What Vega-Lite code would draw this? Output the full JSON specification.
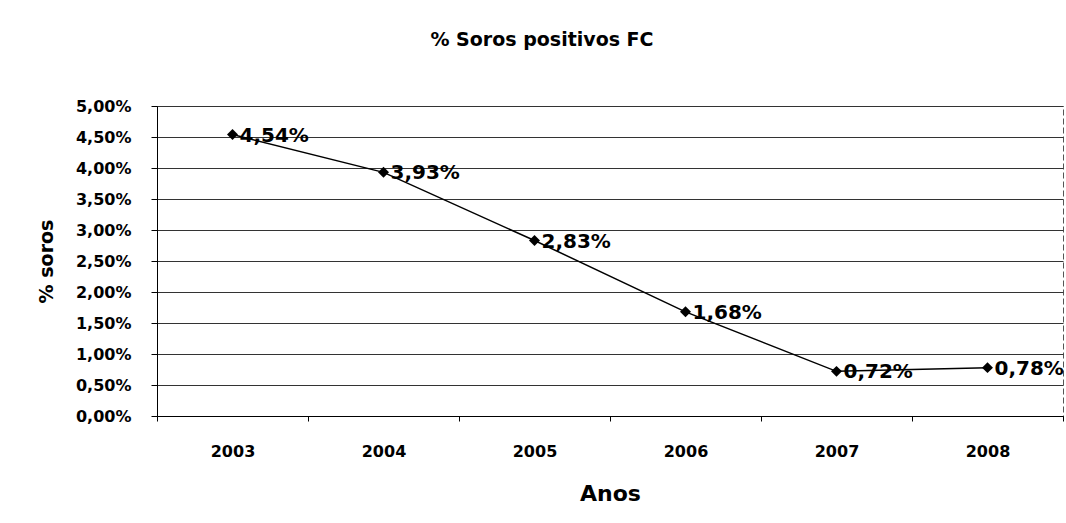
{
  "$schema": "https://vega.github.io/schema/vega-lite/v6.json",
  "autosize": {"type": "none"},
  "width": 906,
  "height": 310,
  "padding": {"left": 157, "top": 106, "right": 3, "bottom": 107},
  "background": "white",
  "title": {
    "text": "% Soros positivos FC",
    "anchor": "middle",
    "frame": "group",
    "dx": -68,
    "offset": 39,
    "baseline": "middle",
    "font": "DejaVu Sans",
    "fontSize": 19,
    "fontWeight": "bold",
    "color": "black"
  },
  "data": {
    "values": [
      {"ano": "2003", "valor": 0.0454, "rotulo": "4,54%"},
      {"ano": "2004", "valor": 0.0393, "rotulo": "3,93%"},
      {"ano": "2005", "valor": 0.0283, "rotulo": "2,83%"},
      {"ano": "2006", "valor": 0.0168, "rotulo": "1,68%"},
      {"ano": "2007", "valor": 0.0072, "rotulo": "0,72%"},
      {"ano": "2008", "valor": 0.0078, "rotulo": "0,78%"}
    ]
  },
  "encoding": {
    "x": {
      "field": "ano",
      "type": "ordinal",
      "scale": {"paddingInner": 0, "paddingOuter": 0},
      "axis": {
        "title": "Anos",
        "labelAngle": 0,
        "labelFont": "DejaVu Sans",
        "labelFontSize": 16,
        "labelFontWeight": "bold",
        "labelColor": "black",
        "labelPadding": 22,
        "tickBand": "extent",
        "tickSize": 5,
        "tickColor": "black",
        "domainColor": "black",
        "titleFont": "DejaVu Sans",
        "titleFontSize": 22,
        "titleFontWeight": "bold",
        "titleColor": "black",
        "titlePadding": 24,
        "grid": false
      }
    },
    "y": {
      "field": "valor",
      "type": "quantitative",
      "scale": {"domain": [0, 0.05]},
      "axis": {
        "title": "% soros",
        "values": [0, 0.005, 0.01, 0.015, 0.02, 0.025, 0.03, 0.035, 0.04, 0.045, 0.05],
        "format": ".2%",
        "labelExpr": "replace(datum.label, '.', ',')",
        "labelFont": "DejaVu Sans",
        "labelFontSize": 16,
        "labelFontWeight": "bold",
        "labelColor": "black",
        "labelPadding": 20,
        "tickSize": 6,
        "tickColor": "black",
        "domainColor": "black",
        "grid": true,
        "gridColor": "#333333",
        "gridWidth": 1,
        "titleFont": "DejaVu Sans",
        "titleFontSize": 19,
        "titleFontWeight": "bold",
        "titleColor": "black",
        "titlePadding": 19
      }
    }
  },
  "layer": [
    {"mark": {"type": "line", "color": "black", "strokeWidth": 1.5}},
    {"mark": {"type": "point", "shape": "diamond", "filled": true, "color": "black", "size": 120, "opacity": 1}},
    {
      "mark": {"type": "text", "align": "left", "baseline": "middle", "dx": 7, "dy": 1, "font": "DejaVu Sans", "fontSize": 20, "fontWeight": "bold", "color": "black"},
      "encoding": {"text": {"field": "rotulo"}}
    }
  ],
  "config": {
    "view": {"stroke": "#555555", "strokeDash": [6, 3]}
  }
}
